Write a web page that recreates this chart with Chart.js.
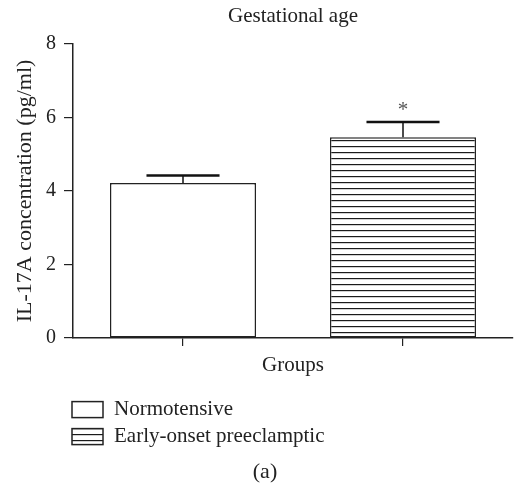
<!DOCTYPE html>
<html>
<head>
<meta charset="utf-8">
<script src="https://cdn.jsdelivr.net/npm/chart.js@4.4.1/dist/chart.umd.min.js"></script>
<style>
  html, body { margin: 0; padding: 0; background: #fff; }
  #wrap { width: 519px; height: 485px; }
</style>
</head>
<body>
<div id="wrap"><canvas id="chart" width="519" height="485"></canvas></div>
<script>
const groups = ["Normotensive", "Early-onset preeclamptic"];
const meanValues = [4.22, 5.46];
const errorValues = [0.2, 0.42];
const significance = ["", "*"];
const yTicks = [0, 2, 4, 6, 8];

const serif = "'Liberation Serif', 'DejaVu Serif', serif";
const ink = "#222";

// horizontal hatch for the second group
function makeHatch() {
  const c = document.createElement("canvas");
  c.width = 8;
  c.height = 6;
  const g = c.getContext("2d");
  g.fillStyle = "#fff";
  g.fillRect(0, 0, 8, 6);
  g.fillStyle = "#1a1a1a";
  g.fillRect(0, 2, 8, 1.2);
  return g.createPattern(c, "repeat");
}
const hatch = makeHatch();

const errorBars = {
  id: "errorBars",
  afterDatasetsDraw(chart) {
    const { ctx, scales } = chart;
    const meta = chart.getDatasetMeta(0);
    ctx.save();
    ctx.strokeStyle = "#111";
    meta.data.forEach((bar, i) => {
      const top = scales.y.getPixelForValue(meanValues[i] + errorValues[i]);
      const half = bar.width / 4;
      ctx.lineWidth = 1.5;
      ctx.beginPath();
      ctx.moveTo(bar.x, bar.y);
      ctx.lineTo(bar.x, top);
      ctx.stroke();
      ctx.lineWidth = 2.5;
      ctx.beginPath();
      ctx.moveTo(bar.x - half, top);
      ctx.lineTo(bar.x + half, top);
      ctx.stroke();
      if (significance[i]) {
        ctx.fillStyle = "#555";
        ctx.font = "21px " + serif;
        ctx.textAlign = "center";
        ctx.textBaseline = "middle";
        ctx.fillText(significance[i], bar.x, top - 11);
      }
    });
    ctx.restore();
  }
};

// two-row legend under the axis title
const blockLegend = {
  id: "blockLegend",
  afterDraw(chart) {
    const { ctx } = chart;
    const ds = chart.data.datasets[0];
    const left = chart.chartArea.left - 1;
    let y = chart.scales.x.bottom + 24;
    ctx.save();
    ctx.font = "21px " + serif;
    ctx.textBaseline = "middle";
    ctx.textAlign = "left";
    chart.data.labels.forEach((label, i) => {
      ctx.fillStyle = ds.backgroundColor[i];
      ctx.fillRect(left, y, 31, 16);
      ctx.strokeStyle = ink;
      ctx.lineWidth = 1.5;
      ctx.strokeRect(left, y, 31, 16);
      ctx.fillStyle = ink;
      ctx.fillText(label, left + 42, y + 8);
      y += 27;
    });
    ctx.restore();
  }
};

new Chart(document.getElementById("chart"), {
  type: "bar",
  data: {
    labels: groups,
    datasets: [{
      data: meanValues,
      backgroundColor: ["#fff", hatch],
      borderColor: ink,
      borderWidth: 1.5,
      borderSkipped: false,
      barPercentage: 0.664,
      categoryPercentage: 1
    }]
  },
  options: {
    responsive: false,
    animation: false,
    layout: { padding: { left: 17, right: 6, top: 0, bottom: 0 } },
    plugins: {
      legend: { display: false },
      tooltip: { enabled: false },
      title: {
        display: true,
        text: "Gestational age",
        fullSize: false,
        color: ink,
        font: { family: serif, size: 21, weight: "normal" },
        padding: { top: 3.4, bottom: 15.4 }
      },
      subtitle: {
        display: true,
        text: "(a)",
        position: "bottom",
        color: ink,
        font: { family: serif, size: 22, weight: "normal" },
        padding: { top: 81, bottom: 0 }
      }
    },
    scales: {
      x: {
        grid: { display: true, offset: false, drawOnChartArea: false, drawTicks: true, tickLength: 8, color: ink, lineWidth: 1.2 },
        border: { display: true, color: ink, width: 1.5 },
        ticks: { display: false },
        title: {
          display: true,
          text: "Groups",
          color: ink,
          font: { family: serif, size: 21 },
          padding: { top: 6.4, bottom: 0 }
        }
      },
      y: {
        min: 0,
        max: 8,
        afterBuildTicks(scale) {
          scale.ticks = yTicks.map((v) => ({ value: v }));
        },
        afterFit(scale) {
          scale.width = 56;
        },
        grid: { display: true, drawOnChartArea: false, drawTicks: true, tickLength: 9, color: ink, lineWidth: 1.2 },
        border: { display: true, color: ink, width: 1.5 },
        ticks: {
          color: ink,
          padding: 8,
          font: { family: serif, size: 20 }
        },
        title: {
          display: true,
          text: "IL-17A concentration (pg/ml)",
          color: ink,
          font: { family: serif, size: 22 },
          padding: { top: -5, bottom: 0 }
        }
      }
    }
  },
  plugins: [errorBars, blockLegend]
});
</script>
</body>
</html>
